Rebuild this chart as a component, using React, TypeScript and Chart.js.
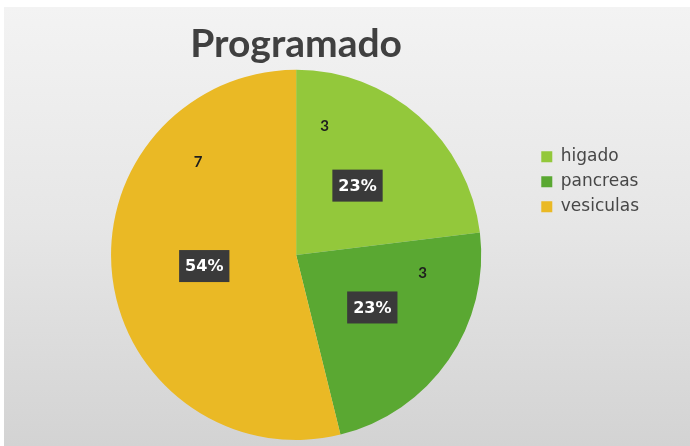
import React, { useEffect, useRef } from "react";
import { Chart, registerables } from "chart.js";

Chart.register(...registerables);

const categories = ["higado", "pancreas", "vesiculas"];
const values = [3, 3, 7];
const sliceColors = ["#93c83b", "#5aa832", "#eab925"];
const chartTitle = "Programado";

const labelPlugin = {
  id: "sliceLabels",
  afterDatasetsDraw(chart: any, _args: any, opts: any) {
    const ctx = chart.ctx;
    const meta = chart.getDatasetMeta(0);
    const data = chart.data.datasets[0].data as number[];
    const total = data.reduce((a, b) => a + b, 0);
    meta.data.forEach((arc: any, i: number) => {
      const { x, y, startAngle, endAngle, outerRadius } = arc.getProps(
        ["x", "y", "startAngle", "endAngle", "outerRadius"],
        true
      );
      // value label
      const va = startAngle + (endAngle - startAngle) * opts.valueAngle[i];
      const vr = outerRadius * opts.valueRadius[i];
      ctx.save();
      ctx.font = "bold 15px Lato";
      ctx.fillStyle = "#1e1e1e";
      ctx.textAlign = "center";
      ctx.textBaseline = "middle";
      ctx.fillText(String(data[i]), x + vr * Math.cos(va), y + vr * Math.sin(va));
      // percentage box
      const mid = (startAngle + endAngle) / 2;
      const pr = outerRadius * opts.pctRadius;
      const px = x + pr * Math.cos(mid);
      const py = y + pr * Math.sin(mid);
      const txt = Math.round((data[i] / total) * 100) + "%";
      ctx.font = "bold 16px 'DejaVu Sans'";
      const w = ctx.measureText(txt).width + 12;
      const h = 32;
      ctx.fillStyle = "#3a3a3a";
      ctx.fillRect(px - w / 2, py - h / 2, w, h);
      ctx.fillStyle = "#ffffff";
      ctx.fillText(txt, px, py + 1);
      ctx.restore();
    });
  },
};

export default function App() {
  const ref = useRef<HTMLCanvasElement>(null);
  useEffect(() => {
    if (!ref.current) return;
    const chart = new Chart(ref.current, {
      type: "pie",
      data: {
        labels: categories,
        datasets: [
          {
            data: values,
            backgroundColor: sliceColors,
            borderWidth: 0,
          },
        ],
      },
      options: {
        responsive: false,
        animation: false,
        layout: { padding: { left: 59, right: 41, top: 0, bottom: 6 } },
        plugins: {
          tooltip: { enabled: false },
          title: {
            display: true,
            text: chartTitle,
            fullSize: false,
            color: "#404040",
            font: { family: "Lato", size: 39, weight: "bold" },
            padding: { top: 21, bottom: 2 },
          },
          legend: {
            display: true,
            position: "right",
            fullSize: false,
            align: "start",
            title: {
              display: true,
              text: "",
              padding: { top: 0, bottom: 56 },
              font: { size: 12 },
            },
            labels: {
              boxWidth: 11,
              boxHeight: 11,
              padding: 8,
              color: "#474747",
              font: { family: "DejaVu Sans", size: 17 },
            },
          },
          sliceLabels: {
            valueAngle: [0.15, 0.18, 0.76],
            valueRadius: [0.71, 0.69, 0.73],
            pctRadius: 0.5,
          },
        } as any,
      },
      plugins: [labelPlugin],
    });
    return () => chart.destroy();
  }, []);
  return (
    <div
      style={{
        position: "absolute",
        left: 0,
        top: 0,
        width: 690,
        height: 446,
        background: "#ffffff",
        overflow: "hidden",
      }}
    >
      <div
        style={{
          position: "absolute",
          left: 4,
          top: 7,
          right: 0,
          bottom: 0,
          background: "linear-gradient(to bottom, #f3f3f3 0%, #e6e6e6 50%, #d3d3d3 100%)",
        }}
      />
      <canvas
        ref={ref}
        width={690}
        height={446}
        style={{ position: "absolute", left: 0, top: 0 }}
      />
    </div>
  );
}
